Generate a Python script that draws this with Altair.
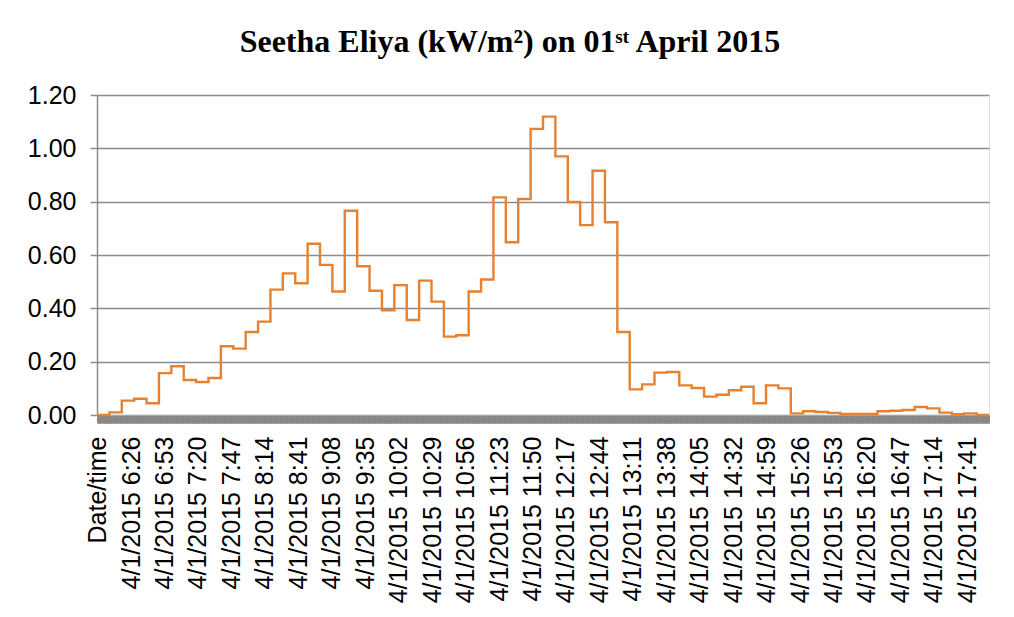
import altair as alt
import pandas as pd

# 10-minute irradiance readings (kW/m2), first step at 6:00
irradiance = [
    0.000, 0.010, 0.054, 0.061, 0.044, 0.157, 0.183, 0.131, 0.124, 0.139,
    0.258, 0.249, 0.311, 0.350, 0.470, 0.531, 0.494, 0.642, 0.563, 0.463,
    0.766, 0.558, 0.466, 0.393, 0.487, 0.356, 0.504, 0.425, 0.294, 0.299,
    0.463, 0.508, 0.816, 0.648, 0.810, 1.073, 1.119, 0.970, 0.799, 0.712,
    0.916, 0.723, 0.311, 0.096, 0.115, 0.159, 0.161, 0.111, 0.101, 0.069,
    0.076, 0.093, 0.106, 0.044, 0.111, 0.100, 0.006, 0.014, 0.011, 0.008,
    0.004, 0.004, 0.004, 0.014, 0.016, 0.019, 0.030, 0.025, 0.009, 0.003,
    0.006, 0.000,
]

# x position in minutes since midnight; category 0 ("Date/time") sits at 5:59
first_minute = 359
last_minute = 1078
step_minutes = 10
label_every = 27

minutes = [first_minute - 0.5 + step_minutes * k for k in range(len(irradiance))]
minutes.append(last_minute + 0.5)
values = irradiance + [irradiance[-1]]

df = pd.DataFrame({"minute": minutes, "value": values})

tick_values = list(range(first_minute, last_minute + 1))
y_ticks = [0.0, 0.2, 0.4, 0.6, 0.8, 1.0, 1.2]

label_expr = (
    f"datum.value == {first_minute} ? 'Date/time' : "
    f"((datum.value - {first_minute}) % {label_every} == 0 ? "
    "'4/1/2015 ' + floor(datum.value / 60) + ':' + format(datum.value % 60, '02d') : '')"
)

line = alt.Chart(df).mark_line(
    interpolate="step-after", color="#E6812F", strokeWidth=2.4
).encode(
    x=alt.X(
        "minute:Q",
        scale=alt.Scale(domain=[first_minute - 0.5, last_minute + 0.5], nice=False, zero=False),
        axis=alt.Axis(
            title=None,
            values=tick_values,
            labelExpr=label_expr,
            labelAngle=-90,
            labelAlign="right",
            labelBaseline="middle",
            labelOverlap=False,
            labelFlush=False,
            labelBound=False,
            labelPadding=13,
            labelFont="Liberation Sans",
            labelFontSize=25,
            labelColor="#000000",
            tickSize=8,
            tickWidth=3,
            tickColor="#888888",
            domainColor="#a6a6a6",
            domainWidth=1,
            grid=False,
        ),
    ),
    y=alt.Y(
        "value:Q",
        scale=alt.Scale(domain=[0, 1.2], nice=False),
        axis=alt.Axis(
            title=None,
            values=y_ticks,
            format=".2f",
            labelFont="Liberation Sans",
            labelFontSize=25,
            labelColor="#000000",
            labelPadding=14,
            tickSize=7,
            tickColor="#8c8c8c",
            tickWidth=1.5,
            domainColor="#8c8c8c",
            domainWidth=1.5,
            grid=True,
            gridColor="#8c8c8c",
            gridWidth=1.5,
        ),
    ),
)

chart = line.properties(
    width=892,
    height=320,
    title=alt.Title(
        "Seetha Eliya (kW/m²) on 01ˢᵗ April 2015",
        font="Liberation Serif",
        fontSize=32,
        fontWeight="bold",
        color="#000000",
        anchor="middle",
        offset=24,
        dx=-33,
    ),
    autosize=alt.AutoSizeParams(type="none"),
    padding={"left": 89, "top": 87, "right": 17, "bottom": 194},
).configure_view(stroke=None).configure(background="white")

chart.save("out.html", embed_options={"renderer": "svg", "actions": False})
